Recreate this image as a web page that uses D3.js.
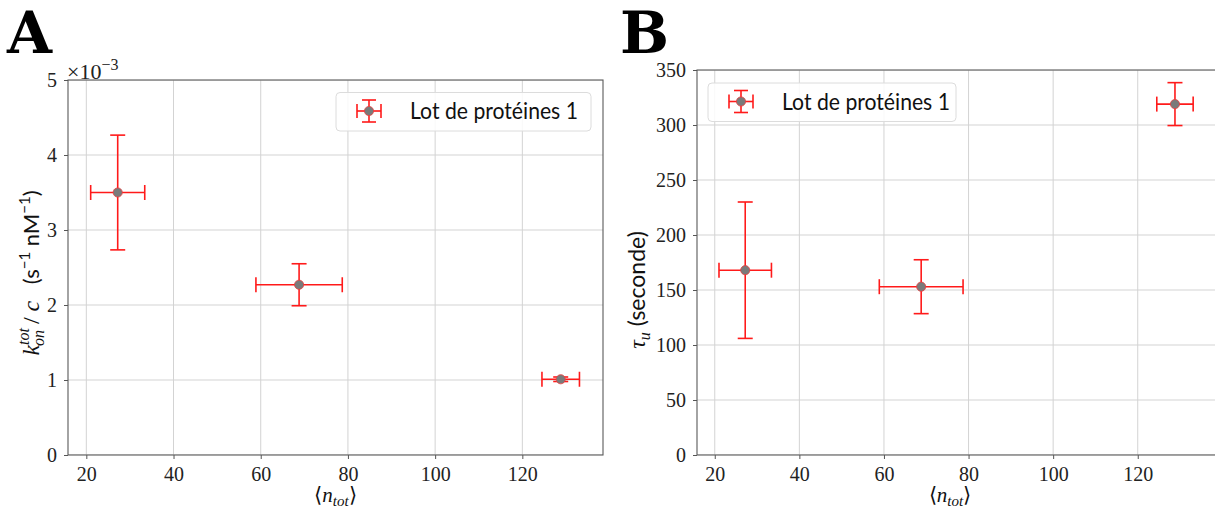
<!DOCTYPE html>
<html><head><meta charset="utf-8">
<script src="https://cdn.jsdelivr.net/npm/d3@7"></script>
<style>
html,body{margin:0;padding:0;background:#fff;}
svg{display:block;}
</style></head>
<body>
<script>
// ---- data ----
const nTot = [27.2, 68.8, 128.8];
const nTotErr = [6.2, 9.9, 4.3];
const konRate = [3.50, 2.27, 1.01];      // ×10^-3 s^-1 nM^-1
const konRateErr = [0.765, 0.28, 0.03];
const tauU = [168, 153, 319];            // seconds
const tauUErr = [62, 24.5, 19.5];
const xTicks = [20, 40, 60, 80, 100, 120];
const yTicksA = [0, 1, 2, 3, 4, 5];
const yTicksB = [0, 50, 100, 150, 200, 250, 300, 350];
const seriesName = "Lot de protéines 1";

const W = 1215, H = 510;
const svg = d3.select("body").append("svg").attr("width", W).attr("height", H);

const tickFont = "Liberation Serif";
const sansFont = "Lato";
const RED = "#ff1a1a";

function panel(opts) {
  const x = d3.scaleLinear().domain([15.8, 138.5]).range([opts.left, opts.right]);
  const y = d3.scaleLinear().domain(opts.yDomain).range([opts.bottom, opts.top]);
  const g = svg.append("g");
  const cid = "clip" + opts.id;
  svg.append("clipPath").attr("id", cid).append("rect")
    .attr("x", opts.left).attr("y", opts.top)
    .attr("width", opts.right - opts.left).attr("height", opts.bottom - opts.top);
  const inner = g.append("g").attr("clip-path", `url(#${cid})`);
  // grid
  inner.selectAll(".gx").data(xTicks).join("line")
    .attr("x1", d => x(d)).attr("x2", d => x(d))
    .attr("y1", opts.top).attr("y2", opts.bottom)
    .attr("stroke", "#d3d3d3").attr("stroke-width", 1);
  inner.selectAll(".gy").data(opts.yTicks).join("line")
    .attr("x1", opts.left).attr("x2", opts.right)
    .attr("y1", d => y(d)).attr("y2", d => y(d))
    .attr("stroke", "#d3d3d3").attr("stroke-width", 1);

  // axes
  const xa = g.append("g").attr("transform", `translate(0,${opts.bottom})`)
    .call(d3.axisBottom(x).tickValues(xTicks).tickSize(4).tickPadding(8).tickFormat(d3.format("d")));
  const ya = g.append("g").attr("transform", `translate(${opts.left},0)`)
    .call(d3.axisLeft(y).tickValues(opts.yTicks).tickSize(4).tickPadding(7).tickFormat(d3.format("d")));
  [xa, ya].forEach(a => {
    a.attr("font-family", tickFont).attr("font-size", 20);
    a.select(".domain").remove();
    a.selectAll(".tick line").attr("stroke", "#555");
    a.selectAll(".tick text").attr("fill", "#222").attr("font-family", tickFont).style("font-family", tickFont).style("font-size", "20px");
  });
  // frame
  g.append("rect").attr("x", opts.left).attr("y", opts.top)
    .attr("width", opts.right - opts.left).attr("height", opts.bottom - opts.top)
    .attr("fill", "none").attr("stroke", "#5a5a5a").attr("stroke-width", 1.1);

  // error bars
  const pts = inner.selectAll(".pt").data(opts.vals.map((v, i) => ({x: nTot[i], xe: nTotErr[i], y: v, ye: opts.errs[i]})))
    .join("g");
  const cap = 7.5;
  pts.append("line").attr("x1", d => x(d.x - d.xe)).attr("x2", d => x(d.x + d.xe))
    .attr("y1", d => y(d.y)).attr("y2", d => y(d.y));
  pts.append("line").attr("y1", d => y(d.y - d.ye)).attr("y2", d => y(d.y + d.ye))
    .attr("x1", d => x(d.x)).attr("x2", d => x(d.x));
  pts.append("line").attr("x1", d => x(d.x - d.xe)).attr("x2", d => x(d.x - d.xe))
    .attr("y1", d => y(d.y) - cap).attr("y2", d => y(d.y) + cap);
  pts.append("line").attr("x1", d => x(d.x + d.xe)).attr("x2", d => x(d.x + d.xe))
    .attr("y1", d => y(d.y) - cap).attr("y2", d => y(d.y) + cap);
  pts.append("line").attr("y1", d => y(d.y - d.ye)).attr("y2", d => y(d.y - d.ye))
    .attr("x1", d => x(d.x) - cap).attr("x2", d => x(d.x) + cap);
  pts.append("line").attr("y1", d => y(d.y + d.ye)).attr("y2", d => y(d.y + d.ye))
    .attr("x1", d => x(d.x) - cap).attr("x2", d => x(d.x) + cap);
  pts.selectAll("line").attr("stroke", RED).attr("stroke-width", 1.6);
  pts.append("circle").attr("cx", d => x(d.x)).attr("cy", d => y(d.y)).attr("r", 4.6)
    .attr("fill", "#7a7a7a").attr("stroke", "#e84040").attr("stroke-width", 0.8);

  // legend
  const L = opts.legend;
  g.append("rect").attr("x", L.x).attr("y", L.y).attr("width", L.w).attr("height", 38.5)
    .attr("rx", 4).attr("fill", "rgba(255,255,255,0.85)").attr("stroke", "#dcdcdc").attr("stroke-width", 1);
  const hx = L.x + 33, hy = L.y + 18.5;
  const lg = g.append("g");
  lg.append("line").attr("x1", hx - 12).attr("x2", hx + 12).attr("y1", hy).attr("y2", hy);
  lg.append("line").attr("x1", hx).attr("x2", hx).attr("y1", hy - 11).attr("y2", hy + 11);
  lg.append("line").attr("x1", hx - 12).attr("x2", hx - 12).attr("y1", hy - 7).attr("y2", hy + 7);
  lg.append("line").attr("x1", hx + 12).attr("x2", hx + 12).attr("y1", hy - 7).attr("y2", hy + 7);
  lg.append("line").attr("x1", hx - 7).attr("x2", hx + 7).attr("y1", hy - 11).attr("y2", hy - 11);
  lg.append("line").attr("x1", hx - 7).attr("x2", hx + 7).attr("y1", hy + 11).attr("y2", hy + 11);
  lg.selectAll("line").attr("stroke", RED).attr("stroke-width", 1.6);
  lg.append("circle").attr("cx", hx).attr("cy", hy).attr("r", 4.6)
    .attr("fill", "#7a7a7a").attr("stroke", "#e84040").attr("stroke-width", 0.8);
  g.append("text").attr("x", L.x + 74).attr("y", hy + 8).text(seriesName)
    .attr("textLength", 168).attr("lengthAdjust", "spacingAndGlyphs")
    .attr("font-family", sansFont).attr("font-size", 23).attr("fill", "#111");

  // x label
  const xl = g.append("text").attr("x", (opts.left + Math.min(opts.right, 1203)) / 2)
    .attr("y", 502).attr("text-anchor", "middle")
    .attr("font-family", tickFont).attr("font-size", 21).attr("fill", "#111");
  xl.append("tspan").text("⟨");
  xl.append("tspan").text("n").attr("font-style", "italic");
  xl.append("tspan").text("tot").attr("font-style", "italic").attr("font-size", 15).attr("dy", 4);
  xl.append("tspan").text("⟩").attr("dy", -4);

  // panel letter
  svg.append("text").attr("x", opts.letterX).attr("y", 53).text(opts.id)
    .attr("font-family", "DejaVu Serif").attr("font-weight", "bold").attr("font-size", 58).attr("fill", "#000");
  return {x, y, g};
}

// Panel A
panel({id: "A", left: 68, right: 603, top: 80, bottom: 455, yDomain: [0, 5], yTicks: yTicksA,
  vals: konRate, errs: konRateErr, legend: {x: 336, y: 92.5, w: 255}, letterX: 7});
// offset text ×10^-3
const off = svg.append("text").attr("x", 67).attr("y", 79)
  .attr("font-family", tickFont).attr("font-size", 22).attr("fill", "#222");
off.append("tspan").text("×10");
off.append("tspan").text("−3").attr("font-size", 16).attr("dy", -9);

// y label A
const yla = svg.append("text").attr("transform", "translate(39,273) rotate(-90)").attr("text-anchor", "middle")
  .attr("font-family", tickFont).attr("font-size", 24).attr("fill", "#111");
yla.append("tspan").text("k").attr("font-style", "italic");
yla.append("tspan").text("tot").attr("font-style", "italic").attr("font-size", 16).attr("dy", -10);
yla.append("tspan").text("on").attr("font-style", "italic").attr("font-size", 16).attr("dx", -18).attr("dy", 15);
yla.append("tspan").text(" / ").attr("dy", -5);
yla.append("tspan").text("c").attr("font-style", "italic");
yla.append("tspan").text("\u2003(s").attr("font-family", sansFont).attr("font-size", 22);
yla.append("tspan").text("−1").attr("font-family", sansFont).attr("font-size", 15).attr("dy", -9);
yla.append("tspan").text(" nM").attr("font-family", sansFont).attr("font-size", 22).attr("dy", 9);
yla.append("tspan").text("−1").attr("font-family", sansFont).attr("font-size", 15).attr("dy", -9);
yla.append("tspan").text(")").attr("font-family", sansFont).attr("font-size", 22).attr("dy", 9);

// Panel B
panel({id: "B", left: 697, right: 1216, top: 70, bottom: 455, yDomain: [0, 350], yTicks: yTicksB,
  vals: tauU, errs: tauUErr, legend: {x: 708, y: 83, w: 248}, letterX: 620});

const ylb = svg.append("text").attr("transform", "translate(645,290) rotate(-90)").attr("text-anchor", "middle")
  .attr("font-family", tickFont).attr("font-size", 24).attr("fill", "#111");
ylb.append("tspan").text("τ").attr("font-style", "italic");
ylb.append("tspan").text("u").attr("font-style", "italic").attr("font-size", 16).attr("dy", 5);
ylb.append("tspan").text(" (seconde)").attr("font-family", sansFont).attr("font-size", 23).attr("dy", -5);
</script>
</body></html>
